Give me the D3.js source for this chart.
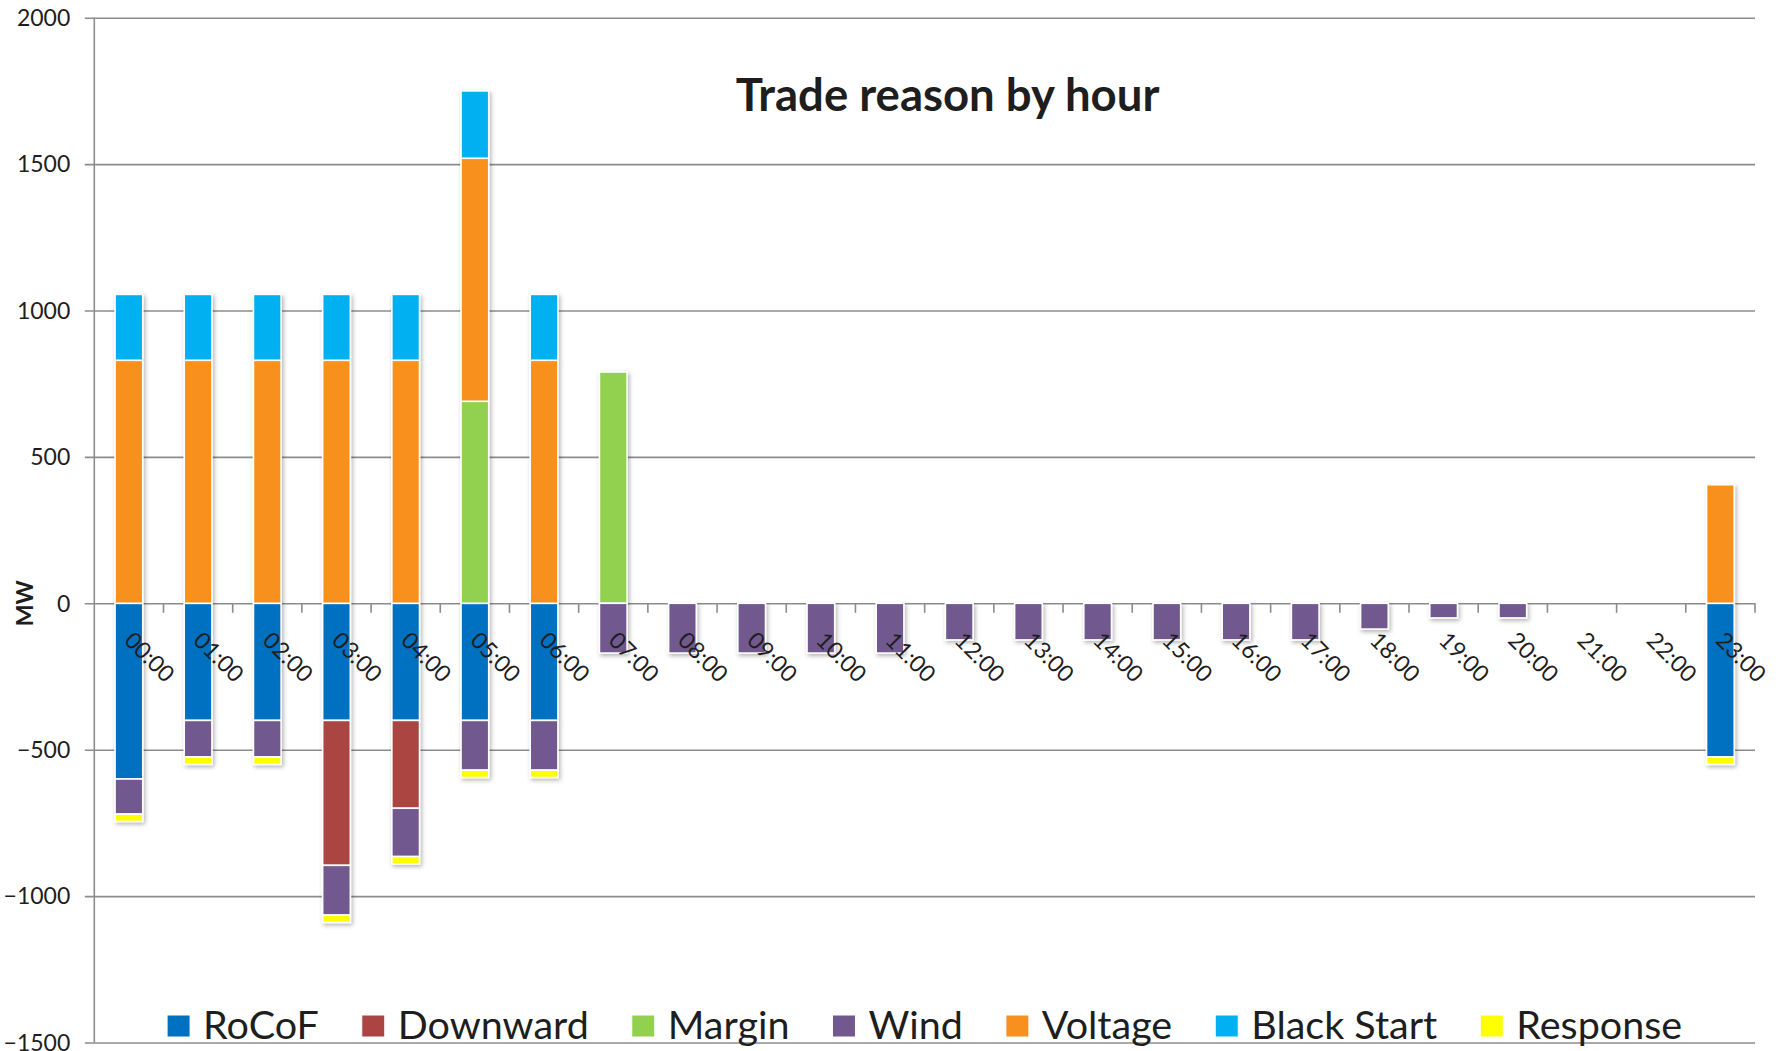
<!DOCTYPE html>
<html>
<head>
<meta charset="utf-8">
<script src="https://cdn.jsdelivr.net/npm/d3@7/dist/d3.min.js"></script>
<style>
  html, body { margin: 0; padding: 0; background: #fff; }
  svg { display: block; }
  text { font-family: Lato, "Open Sans", sans-serif; fill: #1e1e1e; }
</style>
</head>
<body>
<svg id="chart" width="1785" height="1051"></svg>
<script>
// Hourly trade volumes (MW) by reason; negative values are trades down.
const hours = ["00:00","01:00","02:00","03:00","04:00","05:00","06:00","07:00",
               "08:00","09:00","10:00","11:00","12:00","13:00","14:00","15:00",
               "16:00","17:00","18:00","19:00","20:00","21:00","22:00","23:00"];

const rocof      = [-600,-400,-400,-400,-400,-400,-400,0,0,0,0,0,0,0,0,0,0,0,0,0,0,0,0,-525];
const downward   = [0,0,0,-495,-300,0,0,0,0,0,0,0,0,0,0,0,0,0,0,0,0,0,0,0];
const margin     = [0,0,0,0,0,690,0,790,0,0,0,0,0,0,0,0,0,0,0,0,0,0,0,0];
const wind       = [-120,-125,-125,-170,-165,-170,-170,-170,-170,-170,-170,-170,
                    -125,-125,-125,-125,-125,-125,-88,-50,-50,0,0,0];
const voltage    = [830,830,830,830,830,830,830,0,0,0,0,0,0,0,0,0,0,0,0,0,0,0,0,405];
const blackStart = [225,225,225,225,225,230,225,0,0,0,0,0,0,0,0,0,0,0,0,0,0,0,0,0];
const response   = [-25,-25,-25,-25,-25,-25,-25,0,0,0,0,0,0,0,0,0,0,0,0,0,0,0,0,-25];

const seriesNames = ["RoCoF","Downward","Margin","Wind","Voltage","Black Start","Response"];
const seriesValues = [rocof, downward, margin, wind, voltage, blackStart, response];
const seriesColors = ["#0070C0","#AA4543","#92D050","#71588F","#F7901E","#00B0F0","#FFFF00"];

const yTicks = [-1500,-1000,-500,0,500,1000,1500,2000];

const rows = hours.map((h, i) => {
  const r = { hour: h };
  seriesNames.forEach((k, j) => { r[k] = seriesValues[j][i]; });
  return r;
});

const svg = d3.select("#chart");
const plot = { left: 94.3, right: 1755, top: 17.7, bottom: 1042.5 };

const x = d3.scaleBand()
  .domain(hours)
  .range([plot.left, plot.right])
  .paddingInner(0.6)
  .paddingOuter(0.3);

const y = d3.scaleLinear()
  .domain([-1500, 2000])
  .range([plot.bottom, plot.top]);

const color = d3.scaleOrdinal().domain(seriesNames).range(seriesColors);

// drop shadow for the columns
const defs = svg.append("defs");
const f = defs.append("filter").attr("id", "shadow")
  .attr("x", "-50%").attr("y", "-20%").attr("width", "200%").attr("height", "140%");
f.append("feDropShadow")
  .attr("dx", 1.5).attr("dy", 2).attr("stdDeviation", 2)
  .attr("flood-color", "#000").attr("flood-opacity", 0.3);

// horizontal gridlines with left tick stubs
const yAxis = d3.axisLeft(y).tickValues(yTicks)
  .tickSize(-(plot.right - plot.left)).tickSizeOuter(0).tickFormat(d3.format("d"));

const gGrid = svg.append("g").attr("transform", `translate(${plot.left},0)`);
gGrid.call(yAxis);
gGrid.select(".domain").remove();
gGrid.selectAll(".tick line")
  .attr("x1", -9.5).attr("x2", plot.right - plot.left)
  .attr("stroke", "#8c8c8c").attr("stroke-width", 1.6);
gGrid.selectAll(".tick text")
  .attr("x", -24).attr("dy", "0.34em")
  .style("font-size", "23px").style("font-family", "Lato, sans-serif")
  .attr("fill", "#1e1e1e");

// vertical axis line
svg.append("line")
  .attr("x1", plot.left).attr("x2", plot.left)
  .attr("y1", y(2000)).attr("y2", y(-1500))
  .attr("stroke", "#8c8c8c").attr("stroke-width", 1.6);

// category tick marks below the zero line
const step = x.step();
const boundaries = d3.range(1, hours.length + 1).map(i => plot.left + i * step);
svg.append("g").selectAll("line").data(boundaries).join("line")
  .attr("x1", d => d).attr("x2", d => d)
  .attr("y1", y(0)).attr("y2", y(0) + 9.5)
  .attr("stroke", "#8c8c8c").attr("stroke-width", 1.6);

// stacked columns
const stacked = d3.stack().keys(seriesNames).offset(d3.stackOffsetDiverging)(rows);

const gBars = svg.append("g").attr("filter", "url(#shadow)");
gBars.selectAll("g.series").data(stacked).join("g")
  .attr("class", "series")
  .attr("fill", d => color(d.key))
  .selectAll("rect")
  .data(d => d.filter(p => p[1] - p[0] !== 0))
  .join("rect")
  .attr("x", d => x(d.data.hour))
  .attr("width", x.bandwidth())
  .attr("y", d => y(Math.max(d[0], d[1])))
  .attr("height", d => Math.abs(y(d[0]) - y(d[1])))
  .attr("stroke", "#ffffff")
  .attr("stroke-width", 1.6);

// rotated hour labels
svg.append("g").selectAll("text").data(hours).join("text")
  .attr("transform", d => `translate(${x(d) + x.bandwidth() / 2 - 6},${y(0) + 38.5}) rotate(45)`)
  .attr("text-anchor", "start")
  .style("font-size", "23px")
  .text(d => d);

// y axis title
svg.append("text")
  .attr("transform", `translate(32.5,${(y(500) + y(-500)) / 2}) rotate(-90)`)
  .attr("text-anchor", "middle")
  .style("font-size", "23px").style("font-weight", "bold")
  .text("MW");

// chart title
svg.append("text")
  .attr("x", 947.5).attr("y", 111)
  .attr("text-anchor", "middle")
  .style("font-size", "45.5px").style("font-weight", "bold")
  .text("Trade reason by hour");

// legend, centred under the plot
const legend = svg.append("g");
const items = legend.selectAll("g").data(seriesNames).join("g");
items.append("rect")
  .attr("width", 23).attr("height", 22)
  .attr("y", 1015)
  .attr("fill", d => color(d))
  .attr("stroke", "#fff").attr("stroke-width", 1);
items.append("text")
  .attr("y", 1039)
  .style("font-size", "39.5px")
  .text(d => d);

const widths = [];
items.select("text").each(function() { widths.push(this.getComputedTextLength()); });
const swatch = 23, textGap = 13, itemGap = 43;
const total = d3.sum(widths) + seriesNames.length * (swatch + textGap) + (seriesNames.length - 1) * itemGap;
let cursor = (plot.left + plot.right) / 2 - total / 2;
items.each(function(d, i) {
  const g = d3.select(this);
  g.select("rect").attr("x", cursor);
  g.select("text").attr("x", cursor + swatch + textGap);
  cursor += swatch + textGap + widths[i] + itemGap;
});
</script>
</body>
</html>
